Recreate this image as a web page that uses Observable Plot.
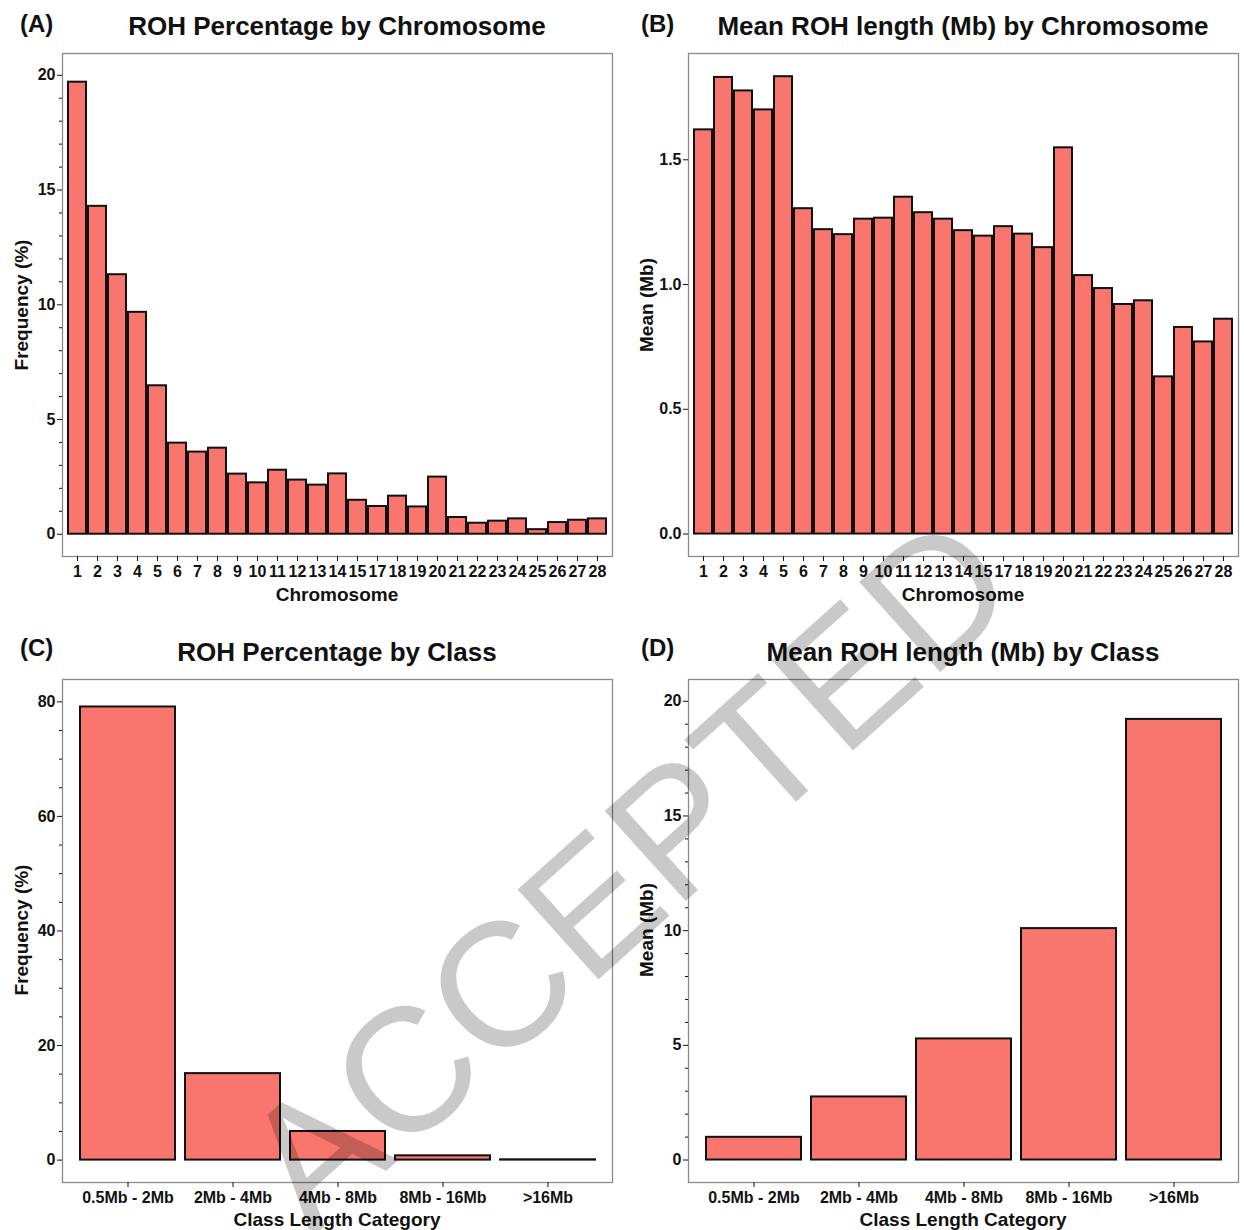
<!DOCTYPE html>
<html>
<head>
<meta charset="utf-8">
<script src="https://cdn.jsdelivr.net/npm/d3@7"></script>
<script src="https://cdn.jsdelivr.net/npm/@observablehq/plot@0.6"></script>
<style>
  html, body { margin: 0; padding: 0; background: white; }
  body { width: 1244px; height: 1230px; position: relative; overflow: hidden;
         font-family: "Liberation Sans", Arial, sans-serif; }
  .panel { position: absolute; }
  .title { position: absolute; font-weight: bold; font-size: 26px; line-height: 1; text-align: center; white-space: nowrap; color: #111; }
  .tag { position: absolute; font-weight: bold; font-size: 24px; line-height: 1; color: #111; }
  .axt { position: absolute; font-weight: bold; font-size: 19px; line-height: 1; white-space: nowrap; color: #111;
         transform: translate(-50%, -50%); }
  .axt.rot { transform: translate(-50%, -50%) rotate(-90deg); }
  .watermark { position: absolute; font-size: 176px; line-height: 1;
               color: rgba(0,0,0,0.21); white-space: nowrap; pointer-events: none;
               transform: translate(-50%, -50%) rotate(-42deg); font-weight: normal; }
</style>
</head>
<body>
<div id="root"></div>
<script>
// ---- data ----
const chromosomes = ["1","2","3","4","5","6","7","8","9","10","11","12","13","14","15",
                     "17","18","19","20","21","22","23","24","25","26","27","28"];
const rohPercent = [19.70,14.29,11.31,9.67,6.47,3.97,3.58,3.75,2.62,2.24,2.79,2.36,2.14,2.63,1.48,
                    1.21,1.66,1.19,2.49,0.73,0.48,0.57,0.67,0.20,0.51,0.61,0.67];
const rohMeanLength = [1.62,1.83,1.776,1.70,1.833,1.304,1.22,1.20,1.262,1.266,1.35,1.288,1.262,1.216,1.194,
                       1.232,1.202,1.148,1.548,1.036,0.984,0.92,0.935,0.63,0.828,0.77,0.861];
const classes = ["0.5Mb - 2Mb","2Mb - 4Mb","4Mb - 8Mb","8Mb - 16Mb",">16Mb"];
const classPercent = [79.1,15.1,5.0,0.75,0.05];
const classMeanLength = [0.99,2.75,5.28,10.09,19.21];

const ticksA = [0,5,10,15,20];
const ticksB = [0.0,0.5,1.0,1.5];
const ticksC = [0,20,40,60,80];
const ticksD = [0,5,10,15,20];

const BAR_FILL = "#F8766D";

function minorTicks(max, step, majorStep) {
  return d3.range(step, max + 1e-9, step).filter(v => Math.abs(v / majorStep - Math.round(v / majorStep)) > 1e-6);
}

function panel({cats, vals, yDomain, major, minor, fmt, marginLeft, marginRight}) {
  const data = cats.map((c, i) => ({c, v: vals[i]}));
  const marks = [
    Plot.frame({stroke: "#8a8a8a", strokeWidth: 1.3}),
    Plot.barY(data, {x: "c", y: "v", fill: BAR_FILL, stroke: "#111", strokeWidth: 2}),
    Plot.axisX({tickSize: 5, tickPadding: 4, label: null}),
    Plot.axisY(major, {tickSize: 5, tickPadding: 2, tickFormat: fmt, label: null})
  ];
  if (minor.length) marks.push(Plot.axisY(minor, {tickSize: 3, tickFormat: () => "", label: null}));
  return Plot.plot({
    width: 622, height: 564,
    marginTop: 13, marginBottom: 48, marginLeft, marginRight,
    style: {fontFamily: "'Liberation Sans', Arial, sans-serif", fontWeight: "bold", fontSize: "16px",
            color: "#111", background: "transparent", overflow: "visible"},
    x: {domain: cats, paddingInner: 0.1, paddingOuter: 0.15, label: null},
    y: {domain: yDomain, label: null},
    marks
  });
}

const root = document.getElementById("root");
function place(el, left, top) {
  const d = document.createElement("div");
  d.className = "panel"; d.style.left = left + "px"; d.style.top = top + "px";
  d.appendChild(el); root.appendChild(d);
}
function addText(cls, txt, left, top, width) {
  const d = document.createElement("div");
  d.className = cls; d.textContent = txt;
  d.style.left = left + "px"; d.style.top = top + "px";
  if (width) d.style.width = width + "px";
  root.appendChild(d);
}

place(panel({cats: chromosomes, vals: rohPercent, yDomain: [-0.97, 20.95], major: ticksA,
             minor: minorTicks(19, 1, 5), fmt: d3.format("d"), marginLeft: 62, marginRight: 10}), 0, 40);
place(panel({cats: chromosomes, vals: rohMeanLength, yDomain: [-0.09, 1.926], major: ticksB,
             minor: [], fmt: d3.format(".1f"), marginLeft: 66, marginRight: 6}), 622, 40);
place(panel({cats: classes, vals: classPercent, yDomain: [-3.91, 83.9], major: ticksC,
             minor: minorTicks(75, 5, 20), fmt: d3.format("d"), marginLeft: 62, marginRight: 10}), 0, 666);
place(panel({cats: classes, vals: classMeanLength, yDomain: [-0.98, 20.95], major: ticksD,
             minor: minorTicks(19, 1, 5), fmt: d3.format("d"), marginLeft: 66, marginRight: 6}), 622, 666);

addText("title", "ROH Percentage by Chromosome", 37, 13, 600);
addText("title", "Mean ROH length (Mb) by Chromosome", 663, 13, 600);
addText("title", "ROH Percentage by Class", 37, 639, 600);
addText("title", "Mean ROH length (Mb) by Class", 663, 639, 600);
addText("tag", "(A)", 20, 12);
addText("tag", "(B)", 641, 12);
addText("tag", "(C)", 20, 636);
addText("tag", "(D)", 641, 636);

addText("axt", "Chromosome", 337, 594);
addText("axt", "Chromosome", 963, 594);
addText("axt", "Class Length Category", 337, 1219);
addText("axt", "Class Length Category", 963, 1219);
addText("axt rot", "Frequency (%)", 21, 305);
addText("axt rot", "Mean (Mb)", 646, 305);
addText("axt rot", "Frequency (%)", 21, 930);
addText("axt rot", "Mean (Mb)", 646, 930);

addText("watermark", "ACCEPTED", 627, 872);
</script>
</body>
</html>
